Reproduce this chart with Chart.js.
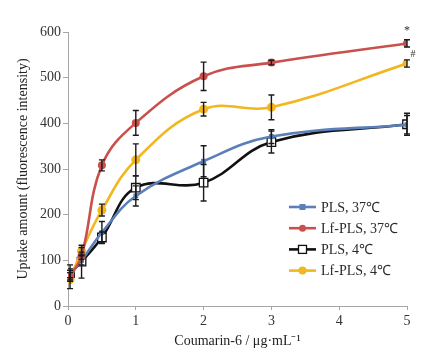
<!DOCTYPE html>
<html>
<head>
<meta charset="utf-8">
<script src="https://cdn.jsdelivr.net/npm/chart.js@4/dist/chart.umd.min.js"></script>
<style>
html,body{margin:0;padding:0;background:#fff;}
#wrap{width:442px;height:360px;position:relative;}
</style>
</head>
<body>
<div id="wrap"><canvas id="c" width="442" height="360"></canvas></div>
<script>
// ---- data ----
const concentrations = [0.03, 0.2, 0.5, 1, 2, 3, 5];
const xTicks = [0, 1, 2, 3, 4, 5];
const yTicks = [0, 100, 200, 300, 400, 500, 600];
const seriesLabels = ["PLS, 37\u2103", "Lf-PLS, 37\u2103", "PLS, 4\u2103", "Lf-PLS, 4\u2103"];
const pls37 = [70, 100, 161, 241, 317, 371, 397];
const lfPls37 = [65, 110, 308, 401, 503, 533, 575];
const pls4 = [72, 97, 150, 259, 270, 359, 398];
const lfPls4 = [58, 120, 210, 320, 431, 435, 531];
const pls37Err = [8, 10, 24, 22, 34, 15, 20];
const lfPls37Err = [8, 8, 12, 27, 31, 5, 8];
const pls4Err = [18, 36, 12, 26, 40, 24, 24];
const lfPls4Err = [20, 8, 13, 35, 15, 27, 8];
const markTexts = ["*", "#"];

const colors = ["#5b7fb8", "#c9504c", "#111111", "#f2b61f"];
const values = [pls37, lfPls37, pls4, lfPls4];
const errs = [pls37Err, lfPls37Err, pls4Err, lfPls4Err];
const styles = [
  {pointStyle: 'rect', radius: 3.5, bg: colors[0], bw: 0},
  {pointStyle: 'circle', radius: 4, bg: colors[1], bw: 0},
  {pointStyle: 'rect', radius: 6, bg: '#ffffff', bw: 1.3},
  {pointStyle: 'circle', radius: 4.5, bg: colors[3], bw: 0}
];

const datasets = values.map((vals, i) => ({
  label: seriesLabels[i],
  data: vals.map((v, j) => ({x: concentrations[j], y: v})),
  errors: errs[i],
  borderColor: colors[i],
  backgroundColor: styles[i].bg,
  pointBackgroundColor: styles[i].bg,
  pointBorderColor: colors[i],
  pointBorderWidth: styles[i].bw,
  pointStyle: styles[i].pointStyle,
  pointRadius: styles[i].radius,
  borderWidth: 2.6,
  tension: 0.4,
  showLine: true,
  fill: false,
  order: i === 1 ? 0 : (i === 3 ? 1 : (i === 0 ? 2 : 3))
}));

const serif = "'Liberation Serif', 'Times New Roman', serif";

const errorBars = {
  id: 'errorBars',
  afterDatasetsDraw(chart) {
    const ctx = chart.ctx;
    const ys = chart.scales.y, xs = chart.scales.x;
    ctx.save();
    ctx.strokeStyle = '#1a1a1a';
    ctx.lineWidth = 1.4;
    chart.data.datasets.forEach(ds => {
      ds.data.forEach((p, j) => {
        const e = ds.errors[j];
        const px = xs.getPixelForValue(p.x);
        const y1 = ys.getPixelForValue(p.y + e);
        const y2 = ys.getPixelForValue(p.y - e);
        ctx.beginPath();
        ctx.moveTo(px, y1); ctx.lineTo(px, y2);
        ctx.moveTo(px - 3, y1); ctx.lineTo(px + 3, y1);
        ctx.moveTo(px - 3, y2); ctx.lineTo(px + 3, y2);
        ctx.stroke();
      });
    });
    // significance marks
    ctx.fillStyle = '#333';
    ctx.font = "12px " + serif;
    ctx.textAlign = 'center';
    ctx.textBaseline = 'middle';
    const last = concentrations.length - 1;
    const px = xs.getPixelForValue(concentrations[last]);
    ctx.fillText(markTexts[0], px, ys.getPixelForValue(lfPls37[last] + lfPls37Err[last]) - 9);
    ctx.font = "10px " + serif;
    ctx.fillText(markTexts[1], px + 6, ys.getPixelForValue(lfPls4[last] + lfPls4Err[last]) - 5);
    ctx.restore();
  }
};

const customLegend = {
  id: 'customLegend',
  afterDraw(chart) {
    const ctx = chart.ctx;
    const x0 = 289, x1 = 316, tx = 321;
    const y0 = 207, dy = 21.2;
    ctx.save();
    chart.data.datasets.forEach((ds, i) => {
      const y = y0 + i * dy;
      ctx.strokeStyle = colors[i];
      ctx.lineWidth = 2.6;
      ctx.beginPath(); ctx.moveTo(x0, y); ctx.lineTo(x1, y); ctx.stroke();
      const cx = (x0 + x1) / 2;
      ctx.fillStyle = styles[i].bg;
      if (styles[i].pointStyle === 'circle') {
        ctx.beginPath(); ctx.arc(cx, y, styles[i].radius - 0.5, 0, Math.PI * 2); ctx.fill();
      } else {
        const r = i === 2 ? 4 : 3;
        ctx.fillRect(cx - r, y - r, 2 * r, 2 * r);
        if (styles[i].bw) {
          ctx.lineWidth = 1.3; ctx.strokeStyle = colors[i];
          ctx.strokeRect(cx - r, y - r, 2 * r, 2 * r);
        }
      }
      ctx.fillStyle = '#2a2a2a';
      ctx.font = "14px " + serif;
      ctx.textAlign = 'left';
      ctx.textBaseline = 'middle';
      ctx.fillText(ds.label, tx, y + 1);
    });
    ctx.restore();
  }
};

new Chart(document.getElementById('c'), {
  type: 'scatter',
  data: {datasets},
  options: {
    responsive: false,
    animation: false,
    devicePixelRatio: 1,
    layout: {padding: {top: 32, right: 35, left: 0, bottom: 0}},
    plugins: {legend: {display: false}, tooltip: {enabled: false}},
    scales: {
      x: {
        type: 'linear', min: 0, max: 5,
        afterBuildTicks(s) { s.ticks = xTicks.map(v => ({value: v})); },
        afterFit(s) { s.height = 54; },
        grid: {drawOnChartArea: false, drawTicks: true, tickLength: 4, color: '#a6a6a6', tickColor: '#a6a6a6'},
        border: {display: true, color: '#a6a6a6', width: 1},
        ticks: {color: '#333', font: {family: serif, size: 14}, padding: 3, maxRotation: 0},
        title: {display: true, text: 'Coumarin-6 / \u03bcg\u00b7mL\u207b\u00b9', color: '#222', font: {family: serif, size: 14}, padding: {top: 0, bottom: 10}}
      },
      y: {
        type: 'linear', min: 0, max: 600,
        afterBuildTicks(s) { s.ticks = yTicks.map(v => ({value: v})); },
        afterFit(s) { s.width = 68; },
        grid: {drawOnChartArea: false, drawTicks: true, tickLength: 5, color: '#a6a6a6', tickColor: '#a6a6a6'},
        border: {display: true, color: '#a6a6a6', width: 1},
        ticks: {color: '#333', font: {family: serif, size: 14}, padding: 2},
        title: {display: true, text: 'Uptake amount (fluorescence intensity)', color: '#222', font: {family: serif, size: 14}, padding: {top: 15, bottom: 0}}
      }
    }
  },
  plugins: [errorBars, customLegend]
});
</script>
</body>
</html>
